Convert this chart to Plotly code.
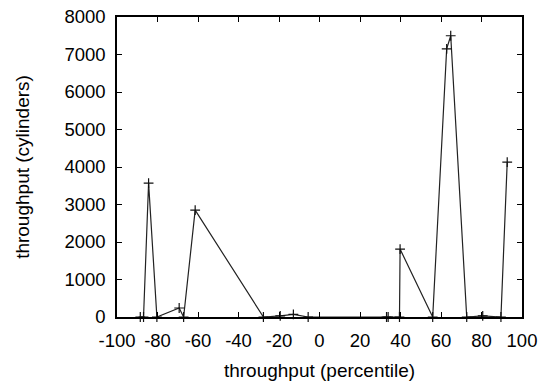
import plotly.graph_objects as go

x_vals = [-88.5, -86.9, -84.4, -80.3, -69.3, -67.1, -61.4, -27.7, -19.4, -12.9, -5.6,
          33.1, 33.9, 39.5, 39.8, 55.9, 62.8, 64.8, 72.7, 80.6, 89.6, 92.7]
y_vals = [0, 0, 3570, 0, 240, 0, 2850, 0, 30, 70, 0,
          0, 0, 0, 1810, 0, 7150, 7500, 0, 30, 0, 4130]

x_ticks = [-100, -80, -60, -40, -20, 0, 20, 40, 60, 80, 100]
y_ticks = [0, 1000, 2000, 3000, 4000, 5000, 6000, 7000, 8000]

FONT = "Liberation Sans, Arial, sans-serif"

fig = go.Figure()
fig.add_trace(go.Scatter(
    x=x_vals, y=y_vals, mode="lines+markers",
    line=dict(color="#222222", width=1.2),
    marker=dict(symbol="cross-thin", size=7, line=dict(color="#111111", width=1.2)),
    cliponaxis=False, showlegend=False,
))

axis_common = dict(
    showline=True, linecolor="black", linewidth=1.5, mirror="ticks",
    ticks="inside", ticklen=5, tickwidth=1, tickcolor="black",
    showgrid=False, zeroline=False, automargin=False,
    tickfont=dict(family=FONT, size=18.5, color="black"),
    ticklabelstandoff=6,
)

fig.update_xaxes(
    range=[-100, 100], tickvals=x_ticks, ticktext=[str(v) for v in x_ticks],
    title=dict(text="throughput (percentile)", font=dict(family=FONT, size=19, color="black"), standoff=15),
    **axis_common,
)
fig.update_yaxes(
    range=[0, 8000], tickvals=y_ticks, ticktext=[str(v) for v in y_ticks],
    title=dict(text="throughput (cylinders)", font=dict(family=FONT, size=19, color="black"), standoff=30),
    **axis_common,
)

fig.update_layout(
    width=543, height=381,
    margin=dict(l=117, r=21, t=17, b=64),
    paper_bgcolor="white", plot_bgcolor="white",
)

fig.write_html("out.html")
